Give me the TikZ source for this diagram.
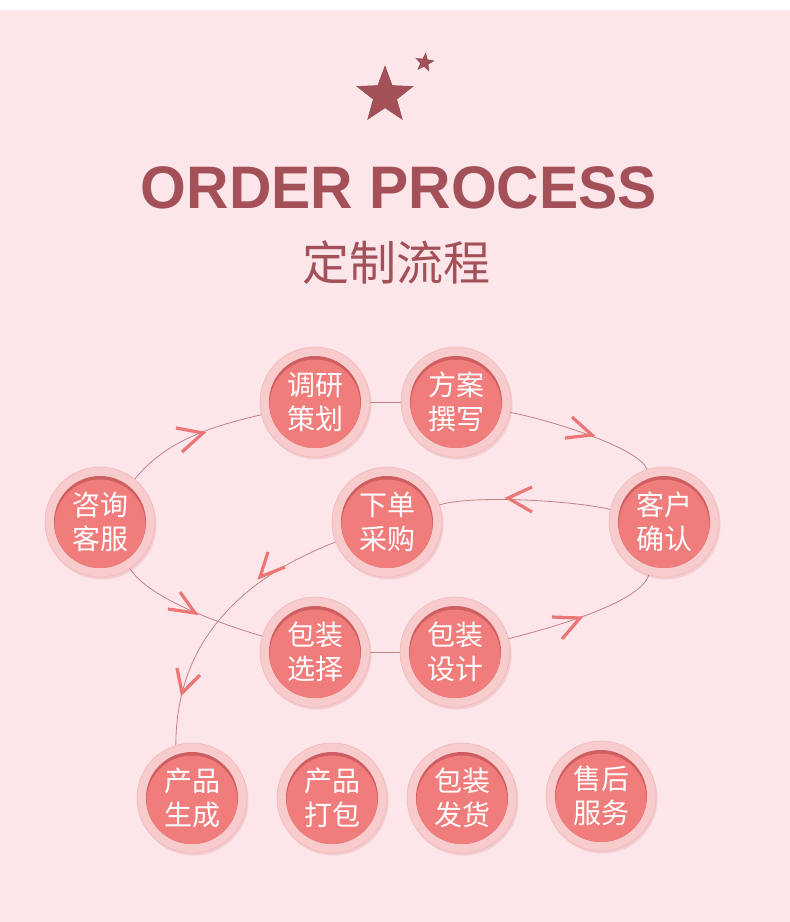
\documentclass[tikz,border=0pt]{standalone}
\usepackage{fontspec}
\setmainfont{Liberation Sans}
\newfontfamily\cjk{Noto Sans CJK SC}
\newfontfamily\titlefont{Liberation Sans}
\usetikzlibrary{shapes.geometric}

\definecolor{bgpink}{RGB}{253,230,233}
\definecolor{titlered}{RGB}{163,80,88}
\definecolor{ringpink}{RGB}{248,203,204}
\definecolor{ringedge}{RGB}{241,184,186}
\definecolor{ringshadow}{RGB}{243,205,209}
\definecolor{discred}{RGB}{240,124,123}
\definecolor{discdark}{RGB}{206,94,96}
\definecolor{linecol}{RGB}{196,130,136}
\definecolor{chevcol}{RGB}{236,118,118}

\begin{document}
\begin{tikzpicture}[x=1pt,y=-1pt,
  stepdisc/.style={circle, minimum size=110pt, inner sep=0pt, fill=ringpink,
    draw=ringedge, line width=0.6pt, text=white, align=center,
    font=\cjk\fontsize{28}{34}\selectfont,
    preaction={fill=ringshadow, transform canvas={xshift=1.5pt,yshift=-2.5pt}},
    path picture={
      \fill[discdark] (path picture bounding box.center) circle[radius=46pt];
      \begin{scope}
        \clip (path picture bounding box.center) circle[radius=46pt];
        \fill[discred] ([yshift=-3pt]path picture bounding box.center) circle[radius=45.5pt];
      \end{scope}
    }},
  conn/.style={draw=linecol, line width=0.8pt},
  chev/.style={draw=chevcol, line width=3.2pt, line join=miter},
  starshape/.style={star, star points=5, star point ratio=2.4, inner sep=0pt,
    fill=titlered, draw=titlered!85!black, line width=0.4pt}
]
\useasboundingbox (0,0) rectangle (790,922);
\fill[white] (0,0) rectangle (790,10);
\fill[bgpink] (0,10) rectangle (790,922);

% stars
\node[starshape, minimum size=59pt] (bigstar) at (385,95.5) {};
\node[starshape, minimum size=19pt, rotate=-8] (smallstar) at (424.5,62.5) {};

% titles
\node[font=\titlefont\bfseries\fontsize{60}{60}\selectfont, text=titlered, inner sep=0pt]
  (title) at (399,188) {\scalebox{0.98}[1]{ORDER PROCESS}};
\node[font=\cjk\fontsize{47}{47}\selectfont, text=titlered, inner sep=0pt]
  (subtitle) at (396,263) {定制流程};

% steps
\node[stepdisc] (zx) at (100,522) {咨询\\客服};
\node[stepdisc] (dy) at (315,402) {调研\\策划};
\node[stepdisc] (fa) at (456,402) {方案\\撰写};
\node[stepdisc] (xd) at (387,522) {下单\\采购};
\node[stepdisc] (kh) at (664,522) {客户\\确认};
\node[stepdisc] (bx) at (315,652) {包装\\选择};
\node[stepdisc] (bs) at (455,652) {包装\\设计};
\node[stepdisc] (sc) at (192,798) {产品\\生成};
\node[stepdisc] (db) at (332,798) {产品\\打包};
\node[stepdisc] (fh) at (462,798) {包装\\发货};
\node[stepdisc] (sh) at (601,796) {售后\\服务};

% connectors
\draw[conn] (zx) .. controls (168,438) and (218,425) .. (dy);
\draw[conn] (dy) -- (fa);
\draw[conn] (fa) .. controls (550,420) and (640,448) .. (kh);
\draw[conn] (kh) .. controls (570,500) and (470,495) .. (xd);
\draw[conn] (zx) .. controls (150,600) and (225,625) .. (bx);
\draw[conn] (bx) -- (bs);
\draw[conn] (bs) .. controls (535,632) and (640,605) .. (kh);
\draw[conn] (xd) .. controls (243,578) and (176,640) .. (sc.107);

% chevrons
\draw[chev] (176,428) -- (203,433) -- (182,452);
\draw[chev] (572,417) -- (592,435) -- (565,438);
\draw[chev] (532,487) -- (508,498) -- (532,512);
\draw[chev] (552,617) -- (580,618) -- (562,639);
\draw[chev] (180,592) -- (195,613) -- (168,609);
\draw[chev] (268,552) -- (260,577) -- (285,567);
\draw[chev] (177,668) -- (182,693) -- (200,675);
\end{tikzpicture}
\end{document}
